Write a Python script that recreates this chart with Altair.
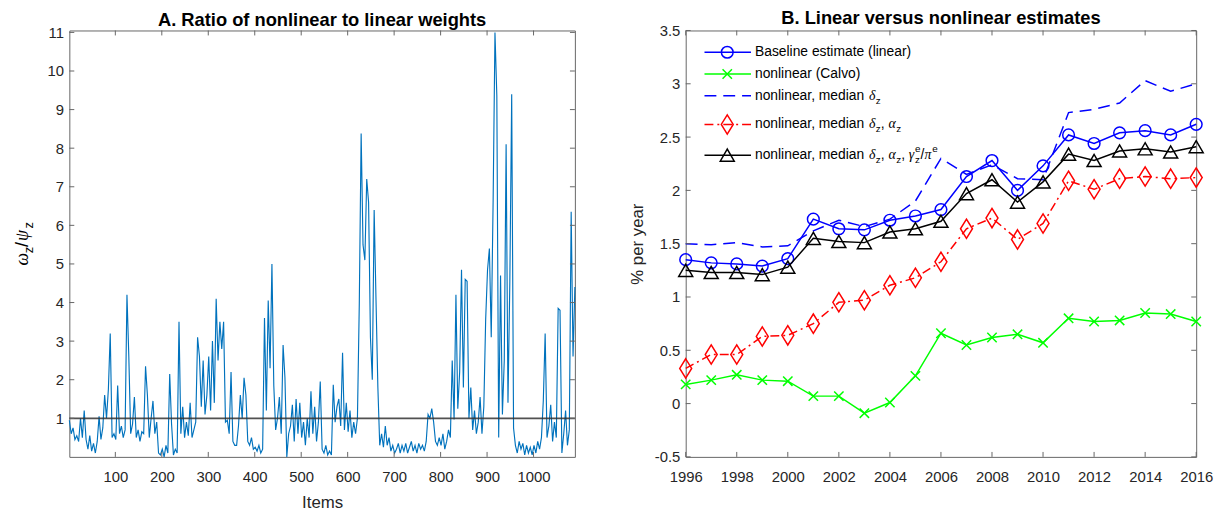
import altair as alt
import pandas as pd

# ---------------- Panel A: ratio of nonlinear to linear weights ----------------
# values read every 4th item (items 1, 5, 9, ...)
ratio = [
    0.95, 0.6, 0.75, 0.45, 0.55,
    0.4, 1.0, 0.5, 1.2, 0.45,
    0.2, 0.55, 0.15, 0.35, 0.1,
    0.4, 1.05, 0.45, 0.75, 1.6,
    1.0, 1.75, 3.2, 0.5, 0.6,
    0.45, 1.85, 0.6, 0.8, 0.5,
    0.7, 4.2, 2.6, 0.6, 0.85,
    1.55, 0.5, 0.7, 0.4, 0.65,
    0.6, 2.35, 1.6, 0.5, 1.0,
    1.45, 0.6, 0.9, 0.1, 0.05,
    0.2, 0.0, 0.3, 0.1, 2.15,
    0.85, 0.05, 0.2, 0.1, 3.5,
    0.6, 1.3, 0.5, 0.9, 0.55,
    1.4, 0.5, 0.7, 0.9, 3.1,
    2.6, 1.3, 2.5, 1.1, 1.6,
    2.6, 1.2, 3.0, 1.4, 4.1,
    2.5, 3.5, 2.8, 3.5, 0.9,
    0.95, 0.6, 2.2, 0.4, 0.3,
    0.3, 0.8, 1.6, 1.0, 2.05,
    1.6, 0.4, 0.3, 0.5, 0.2,
    0.25, 0.15, 0.3, 0.1, 0.2,
    3.6, 1.2, 4.05, 2.3, 5.0,
    1.85, 0.7, 1.0, 1.55, 0.6,
    2.9, 2.05, 0.0, 0.6, 0.8,
    1.35, 0.4, 1.5, 0.6, 1.4,
    0.5, 0.9, 0.3, 1.0, 0.5,
    1.7, 0.6, 1.3, 0.4, 0.9,
    1.95, 0.2, 0.1, 0.3, 0.05,
    0.15, 0.05, 1.87, 0.9, 1.3,
    1.5, 0.8, 2.7, 0.7, 1.4,
    0.65, 1.2, 0.5, 0.9, 0.6,
    1.0, 3.96, 8.38, 5.5, 5.1,
    7.2, 6.6, 3.1, 2.0, 6.4,
    4.05, 1.8, 0.3, 0.6, 0.25,
    0.8, 0.3, 0.5, 0.15, 0.3,
    0.1, 0.2, 0.35, 0.1, 0.3,
    0.15, 0.35, 0.1, 0.25, 0.4,
    0.15, 0.3, 0.1, 0.35, 0.2,
    0.3, 0.15, 0.4, 1.1, 1.0,
    1.25, 0.9, 0.4, 0.3, 0.5,
    0.3, 0.6, 0.2, 0.4, 0.7,
    0.5, 2.5, 0.97, 4.2, 1.25,
    2.2, 4.85, 1.8, 4.6, 4.55,
    1.0, 1.8, 0.7, 1.2, 0.6,
    0.9, 1.55, 0.6, 1.3, 3.57,
    4.85, 5.4, 3.1, 6.6, 11.0,
    9.35, 0.5, 4.7, 1.1, 2.5,
    8.1, 1.4, 4.55, 9.4, 0.75,
    0.3, 0.1, 0.4, 0.2, 0.35,
    0.05, 0.3, 0.1, 0.25, 0.05,
    0.3, 0.1, 0.4, 0.2, 0.5,
    1.45, 3.2, 0.5, 0.8, 1.35,
    0.4, 0.9, 0.5, 3.85, 3.8,
    0.1, 0.6, 1.2, 0.3, 0.7,
    6.35, 2.6, 4.4,
]
item_first = 1
item_step = 4
items = [item_first + item_step * i for i in range(len(ratio))]
a_xticks = [100, 200, 300, 400, 500, 600, 700, 800, 900, 1000]
a_yticks = [1, 2, 3, 4, 5, 6, 7, 8, 9, 10, 11]
a_reference = [1]

# ---------------- Panel B: linear vs nonlinear estimates ----------------
years = list(range(1996, 2017))
baseline = [1.35, 1.32, 1.31, 1.29, 1.36, 1.73, 1.64, 1.63, 1.72, 1.76, 1.82,
            2.13, 2.28, 2.00, 2.23, 2.52, 2.44, 2.54, 2.56, 2.52, 2.62]
calvo = [0.18, 0.22, 0.27, 0.22, 0.21, 0.07, 0.07, -0.09, 0.01, 0.26, 0.66,
         0.55, 0.62, 0.65, 0.57, 0.80, 0.77, 0.78, 0.85, 0.84, 0.77]
med_delta = [1.50, 1.49, 1.51, 1.47, 1.48, 1.62, 1.72, 1.66, 1.73, 1.90, 2.30,
             2.15, 2.24, 2.11, 2.10, 2.73, 2.76, 2.82, 3.03, 2.93, 3.00]
med_delta_alpha = [0.33, 0.46, 0.46, 0.63, 0.64, 0.75, 0.95, 0.97, 1.11, 1.18, 1.33,
                   1.64, 1.74, 1.54, 1.69, 2.09, 2.01, 2.11, 2.13, 2.11, 2.12]
med_all = [1.25, 1.23, 1.23, 1.21, 1.28, 1.55, 1.52, 1.51, 1.61, 1.64, 1.71,
           1.97, 2.10, 1.89, 2.08, 2.34, 2.28, 2.37, 2.39, 2.36, 2.41]
b_xticks = list(range(1996, 2017, 2))
b_yticks = [-0.5, 0, 0.5, 1, 1.5, 2, 2.5, 3, 3.5]

# ---------------- style ----------------
FONT = "Liberation Sans"
GFONT = "Liberation Serif"
AX = "#262626"
FRAME = "#666666"
TICK = 5
WA, HA = 511, 431
WB, HB = 516, 431

SANS_W = {'a': 556, 'b': 556, 'c': 500, 'd': 556, 'e': 556, 'f': 278, 'g': 556, 'h': 556,
          'i': 222, 'j': 222, 'k': 500, 'l': 222, 'm': 833, 'n': 556, 'o': 556, 'p': 556,
          'q': 556, 'r': 333, 's': 500, 't': 278, 'u': 556, 'v': 500, 'w': 722, 'x': 500,
          'y': 500, 'z': 500, ' ': 278, ',': 278, '(': 333, ')': 333, '/': 278, 'B': 667,
          'C': 722, '%': 889, '.': 278}
GREEK_W = {'δ': 500, 'α': 560, 'γ': 450, 'π': 560, 'ω': 680, 'ψ': 700}


def text_width(s, size, greek=False):
    table = GREEK_W if greek else SANS_W
    return sum(table.get(c, 556) for c in s) * size / 1000.0


def one_row():
    return pd.DataFrame({'t': [0]})


def text_layer(txt, x, y, size, italic=False, serif=False, angle=0, baseline='middle'):
    kw = dict(align='left', baseline=baseline, fontSize=size, color='black',
              font=GFONT if serif else FONT)
    if italic:
        kw['fontStyle'] = 'italic'
    if angle:
        kw['angle'] = angle
    return alt.Chart(pd.DataFrame({'t': [txt]})).mark_text(**kw).encode(
        text='t:N', x=alt.value(x), y=alt.value(y))


def rich_text(pieces, x0, y0, size=14, sub=10, dsub=5, dsup=-6):
    """pieces: list of (text, kind) with kind in n, g, sub, sup, subsup"""
    layers = []
    x = x0
    for txt, kind in pieces:
        if kind == 'n':
            layers.append(text_layer(txt, x, y0, size))
            x += text_width(txt, size)
        elif kind == 'g':
            layers.append(text_layer(txt, x, y0, size, italic=True, serif=True))
            x += text_width(txt, size, greek=True)
        elif kind == 'sub':
            layers.append(text_layer(txt, x, y0 + dsub, sub))
            x += text_width(txt, sub)
        elif kind == 'sup':
            layers.append(text_layer(txt, x, y0 + dsup, sub))
            x += text_width(txt, sub)
        elif kind == 'subsup':
            s_sub, s_sup = txt
            layers.append(text_layer(s_sub, x, y0 + dsub, sub))
            layers.append(text_layer(s_sup, x, y0 + dsup, sub))
            x += max(text_width(s_sub, sub), text_width(s_sup, sub))
    return layers


# ---------------- Panel A chart ----------------
xsA = alt.Scale(domain=[1, 1089], nice=False, zero=False)
ysA = alt.Scale(domain=[0, 11.05], nice=False, zero=False)


def xA():
    return alt.X('item:Q', scale=xsA,
                 axis=alt.Axis(values=a_xticks, ticks=False, domain=False, grid=False,
                               labelFontSize=15, labelColor=AX, labelPadding=13,
                               labelFlush=False, labelOverlap=False, format='d',
                               title='Items', titleFontSize=17, titleFontWeight='normal',
                               titleColor=AX, titlePadding=10))


def yA():
    return alt.Y('ratio:Q', scale=ysA,
                 axis=alt.Axis(values=a_yticks, ticks=False, domain=False, grid=False,
                               labelFontSize=15, labelColor=AX, labelPadding=6,
                               labelFlush=False, labelOverlap=False, format='d',
                               title=None))


dfA = pd.DataFrame({'item': items, 'ratio': ratio})
a_line = alt.Chart(dfA).mark_line(color='#0072BD', strokeWidth=1.15).encode(x=xA(), y=yA())
a_ref = alt.Chart(pd.DataFrame({'ratio': a_reference})).mark_rule(
    color='#333333', strokeWidth=1.8, opacity=0.85).encode(y=yA())

dxa = pd.DataFrame({'item': a_xticks})
dya = pd.DataFrame({'ratio': a_yticks})
a_ticks = [
    alt.Chart(dxa).mark_rule(color=FRAME).encode(x=xA(), y=alt.value(HA - TICK), y2=alt.value(HA)),
    alt.Chart(dxa).mark_rule(color=FRAME).encode(x=xA(), y=alt.value(0), y2=alt.value(TICK)),
    alt.Chart(dya).mark_rule(color=FRAME).encode(y=yA(), x=alt.value(0), x2=alt.value(TICK)),
    alt.Chart(dya).mark_rule(color=FRAME).encode(y=yA(), x=alt.value(WA - TICK), x2=alt.value(WA)),
]

# rotated y title  omega_z / psi_z
ytitle_layers = []
tx = -42
ty = HA / 2 + 22
big, small = 18, 13
for txt, kind in [('ω', 'g'), ('z', 'sub'), ('/', 'n'), ('ψ', 'g'), ('z', 'sub')]:
    if kind == 'g':
        ytitle_layers.append(text_layer(txt, tx, ty, big, italic=True, serif=True, angle=270,
                                        baseline='alphabetic'))
        ty -= text_width(txt, big, greek=True)
    elif kind == 'sub':
        ytitle_layers.append(text_layer(txt, tx + 5, ty, small, angle=270, baseline='alphabetic'))
        ty -= text_width(txt, small)
    else:
        ytitle_layers.append(text_layer(txt, tx, ty, big, angle=270, baseline='alphabetic'))
        ty -= text_width(txt, big) + 1

panelA = alt.layer(a_line, a_ref, *a_ticks, *ytitle_layers).properties(
    width=WA, height=HA,
    title=alt.TitleParams('A. Ratio of nonlinear to linear weights', fontSize=18.5,
                          fontWeight='bold', font=FONT, color='black', offset=-4))

# ---------------- Panel B chart ----------------
xsB = alt.Scale(domain=[1996, 2016], nice=False, zero=False)
ysB = alt.Scale(domain=[-0.5, 3.5], nice=False, zero=False)


def xB():
    return alt.X('year:Q', scale=xsB,
                 axis=alt.Axis(values=b_xticks, ticks=False, domain=False, grid=False,
                               labelFontSize=15, labelColor=AX, labelPadding=13,
                               labelFlush=False, labelOverlap=False, format='d', title=None))


def yB():
    return alt.Y('value:Q', scale=ysB,
                 axis=alt.Axis(values=b_yticks, ticks=False, domain=False, grid=False,
                               labelFontSize=15, labelColor=AX, labelPadding=6,
                               labelFlush=False, labelOverlap=False,
                               labelExpr="'' + datum.value",
                               title='% per year', titleFontSize=17, titleFontWeight='normal',
                               titleColor=AX, titlePadding=8))


DIAMOND = "M0,-1L0.62,0L0,1L-0.62,0Z"
XMARK = "M-1,-1L1,1M-1,1L1,-1"
series = [
    (baseline, 'Baseline estimate (linear)', '#0000FF', None, 'circle', 140),
    (calvo, 'nonlinear (Calvo)', '#00FF00', None, XMARK, 90),
    (med_delta, 'nonlinear, median delta', '#0000FF', [12, 7], None, 0),
    (med_delta_alpha, 'nonlinear, median delta alpha', '#FF0000', [9, 4, 2, 4], DIAMOND, 380),
    (med_all, 'nonlinear, median all', '#000000', None, 'triangle-up', 200),
]

b_layers = []
for vals, name, color, dash, shape, size in series:
    df = pd.DataFrame({'year': years, 'value': vals})
    lkw = dict(color=color, strokeWidth=1.5)
    if dash:
        lkw['strokeDash'] = dash
    b_layers.append(alt.Chart(df).mark_line(**lkw).encode(x=xB(), y=yB()))
    if shape:
        b_layers.append(alt.Chart(df).mark_point(shape=shape, size=size, color=color,
                                                 filled=False, strokeWidth=1.5, opacity=1)
                        .encode(x=xB(), y=yB()))

dxb = pd.DataFrame({'year': b_xticks})
dyb = pd.DataFrame({'value': b_yticks})
b_ticks = [
    alt.Chart(dxb).mark_rule(color=FRAME).encode(x=xB(), y=alt.value(HB - TICK), y2=alt.value(HB)),
    alt.Chart(dxb).mark_rule(color=FRAME).encode(x=xB(), y=alt.value(0), y2=alt.value(TICK)),
    alt.Chart(dyb).mark_rule(color=FRAME).encode(y=yB(), x=alt.value(0), x2=alt.value(TICK)),
    alt.Chart(dyb).mark_rule(color=FRAME).encode(y=yB(), x=alt.value(WB - TICK), x2=alt.value(WB)),
]

# legend (drawn manually to allow sub/superscripts)
leg_rows_y = [22, 44, 66, 95, 126]
leg_labels = [
    [('Baseline estimate (linear)', 'n')],
    [('nonlinear (Calvo)', 'n')],
    [('nonlinear, median ', 'n'), ('δ', 'g'), ('z', 'sub')],
    [('nonlinear, median ', 'n'), ('δ', 'g'), ('z', 'sub'), (', ', 'n'), ('α', 'g'), ('z', 'sub')],
    [('nonlinear, median ', 'n'), ('δ', 'g'), ('z', 'sub'), (', ', 'n'), ('α', 'g'), ('z', 'sub'),
     (', ', 'n'), ('γ', 'g'), (('z', 'e'), 'subsup'), ('/', 'n'), ('π', 'g'), ('e', 'sup')],
]
leg_layers = []
for (vals, name, color, dash, shape, size), ry, lab in zip(series, leg_rows_y, leg_labels):
    rkw = dict(color=color, strokeWidth=1.5)
    if dash:
        rkw['strokeDash'] = dash
    leg_layers.append(alt.Chart(one_row()).mark_rule(**rkw).encode(
        x=alt.value(19), x2=alt.value(66), y=alt.value(ry)))
    if shape:
        leg_layers.append(alt.Chart(one_row()).mark_point(
            shape=shape, size=size, color=color, filled=False, strokeWidth=1.5, opacity=1
        ).encode(x=alt.value(42), y=alt.value(ry)))
    leg_layers.extend(rich_text(lab, 70, ry))

panelB = alt.layer(*b_layers, *b_ticks, *leg_layers).properties(
    width=WB, height=HB,
    title=alt.TitleParams('B. Linear versus nonlinear estimates', fontSize=18.5,
                          fontWeight='bold', font=FONT, color='black', offset=-4))

chart = alt.hconcat(panelA, panelB, spacing=112, bounds='flush').properties(
    padding={'left': 5, 'top': -2, 'right': 0, 'bottom': 0}
).configure(font=FONT).configure_view(stroke=FRAME, strokeWidth=1)

chart.save("out.html", embed_options={"renderer": "svg", "actions": False})
